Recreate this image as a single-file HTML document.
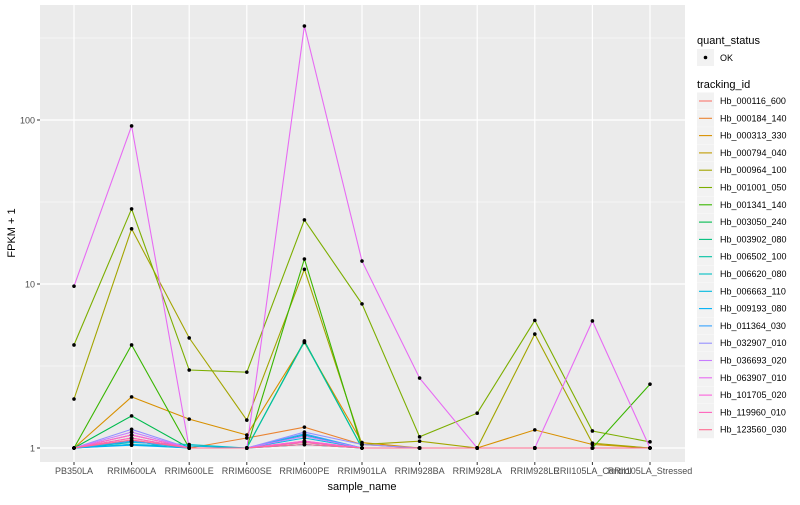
<!DOCTYPE html>
<html><head><meta charset="utf-8"><style>
body{margin:0;background:#fff;font-family:"Liberation Sans",sans-serif}
svg text{font-family:"Liberation Sans",sans-serif}
</style></head><body>
<svg id="chart" width="800" height="500"></svg>
<script>
const categories=["PB350LA","RRIM600LA","RRIM600LE","RRIM600SE","RRIM600PE","RRIM901LA","RRIM928BA","RRIM928LA","RRIM928LE","RRII105LA_Control","RRII105LA_Stressed"];
const seriesNames=["Hb_000116_600","Hb_000184_140","Hb_000313_330","Hb_000794_040","Hb_000964_100","Hb_001001_050","Hb_001341_140","Hb_003050_240","Hb_003902_080","Hb_006502_100","Hb_006620_080","Hb_006663_110","Hb_009193_080","Hb_011364_030","Hb_032907_010","Hb_036693_020","Hb_063907_010","Hb_101705_020","Hb_119960_010","Hb_123560_030"];
const colors=["#F8766D","#EA8331","#D89000","#C09B00","#A3A500","#7CAE00","#39B600","#00BB4E","#00BF7D","#00C1A3","#00BFC4","#00BAE0","#00B0F6","#35A2FF","#9590FF","#C77CFF","#E76BF3","#FA62DB","#FF62BC","#FF6C91"];
const s00=[1,1.15,1,1,1.1,1,1,1,1,1,1];
const s01=[1,1.2,1,1.15,1.34,1.05,1,1,1,1,1];
const s02=[1,2.05,1.5,1.2,4.4,1.08,1,1,1.29,1.05,1];
const s03=[1,1.1,1,1,1.08,1,1,1,1,1,1];
const s04=[1.99,21.7,4.69,1.48,12.3,1.05,1.1,1,4.95,1.07,1];
const s05=[4.25,28.7,2.99,2.9,24.6,7.56,1.17,1.63,6.0,1.27,1.09];
const s06=[1,4.25,1,1,14.2,1,1,1,1,1,2.45];
const s07=[1,1.57,1,1,4.5,1,1,1,1,1,1];
const s08=[1,1.05,1,1,1.05,1,1,1,1,1,1];
const s09=[1,1.1,1,1,4.45,1,1,1,1,1,1];
const s10=[1,1.08,1.05,1,1.2,1,1,1,1,1,1];
const s11=[1,1.05,1.03,1,1.15,1,1,1,1,1,1];
const s12=[1,1.04,1,1,1.05,1,1,1,1,1,1];
const s13=[1,1.1,1,1,1.22,1,1,1,1,1,1];
const s14=[1,1.3,1,1,1.25,1.05,1,1,1,1,1];
const s15=[1,1.25,1,1,1.18,1,1,1,1,1,1];
const s16=[9.7,92,1,1,374,13.8,2.67,1,1,5.95,1];
const s17=[1,1.2,1,1,1.1,1,1,1,1,1,1];
const s18=[1,1.15,1,1,1.08,1,1,1,1,1,1];
const s19=[1,1.12,1,1,1.05,1,1,1,1,1,1];
const seriesValues=[s00,s01,s02,s03,s04,s05,s06,s07,s08,s09,s10,s11,s12,s13,s14,s15,s16,s17,s18,s19];
const yTicks=[1,10,100];
const yTickLabels=["1","10","100"];

const NS="http://www.w3.org/2000/svg";
const svg=document.getElementById("chart");
function mk(tag,attrs,parent){const e=document.createElementNS(NS,tag);for(const k in attrs)e.setAttribute(k,attrs[k]);(parent||svg).appendChild(e);return e;}
const PL=40,PR=685,PT=5,PB=462;
function xScale(i){return 74+i*57.6;}
function yScale(v){return 448-164*Math.log10(v);}

const panel=mk("rect",{x:PL,y:PT,width:PR-PL,height:PB-PT,fill:"#EBEBEB"});


// minor grid
[0.5,1.5,2.5].forEach(e=>{const l=mk("line",{x1:PL,x2:PR,y1:yScale(Math.pow(10,e)),y2:yScale(Math.pow(10,e)),stroke:"#fff","stroke-width":0.6});

});
yTicks.forEach((t,i)=>{const y=yScale(t);
const l=mk("line",{x1:PL,x2:PR,y1:y,y2:y,stroke:"#fff","stroke-width":1.2});


mk("line",{x1:PL-3,x2:PL,y1:y,y2:y,stroke:"#333"});
const tx=mk("text",{x:PL-5,y:y+3.5,"text-anchor":"end","font-size":"9","fill":"#4D4D4D"});tx.textContent=yTickLabels[i];

});
categories.forEach((c,i)=>{const x=xScale(i);
const l=mk("line",{x1:x,x2:x,y1:PT,y2:PB,stroke:"#fff","stroke-width":1.2});


mk("line",{x1:x,x2:x,y1:PB,y2:PB+3,stroke:"#333"});
const tx=mk("text",{x:x,y:PB+12,"text-anchor":"middle","font-size":"9","fill":"#4D4D4D"});tx.textContent=c;

});
seriesValues.forEach((vals,si)=>{
const pts=vals.map((v,i)=>xScale(i).toFixed(1)+","+yScale(v).toFixed(1)).join(" ");
const pl=mk("polyline",{points:pts,fill:"none",stroke:colors[si],"stroke-width":1.1});

});
seriesValues.forEach((vals,si)=>{vals.forEach((v,i)=>{
const c=mk("circle",{cx:xScale(i),cy:yScale(v),r:1.8,fill:"#000"});

});});
const xt=mk("text",{x:362,y:490,"text-anchor":"middle","font-size":"11","fill":"#000"});xt.textContent="sample_name";


const yt=mk("text",{x:15,y:233,"text-anchor":"middle","font-size":"11","fill":"#000",transform:"rotate(-90 15 233)"});yt.textContent="FPKM + 1";


// legend
const qt=mk("text",{x:697,y:44,"font-size":"11"});qt.textContent="quant_status";


mk("rect",{x:697,y:49,width:17,height:17,fill:"#F2F2F2"});
mk("circle",{cx:705.5,cy:57.5,r:1.8,fill:"#000"});
const ok=mk("text",{x:720,y:61,"font-size":"9"});ok.textContent="OK";


const tt=mk("text",{x:697,y:88,"font-size":"11"});tt.textContent="tracking_id";


seriesNames.forEach((n,i)=>{const cy=101+i*17.3;
mk("rect",{x:697,y:cy-8.5,width:17,height:17,fill:"#F2F2F2"});
mk("line",{x1:699,x2:712,y1:cy,y2:cy,stroke:colors[i],"stroke-width":1.1});
const t=mk("text",{x:720,y:cy+3,"font-size":"9"});t.textContent=n;

});
</script>
</body></html>
